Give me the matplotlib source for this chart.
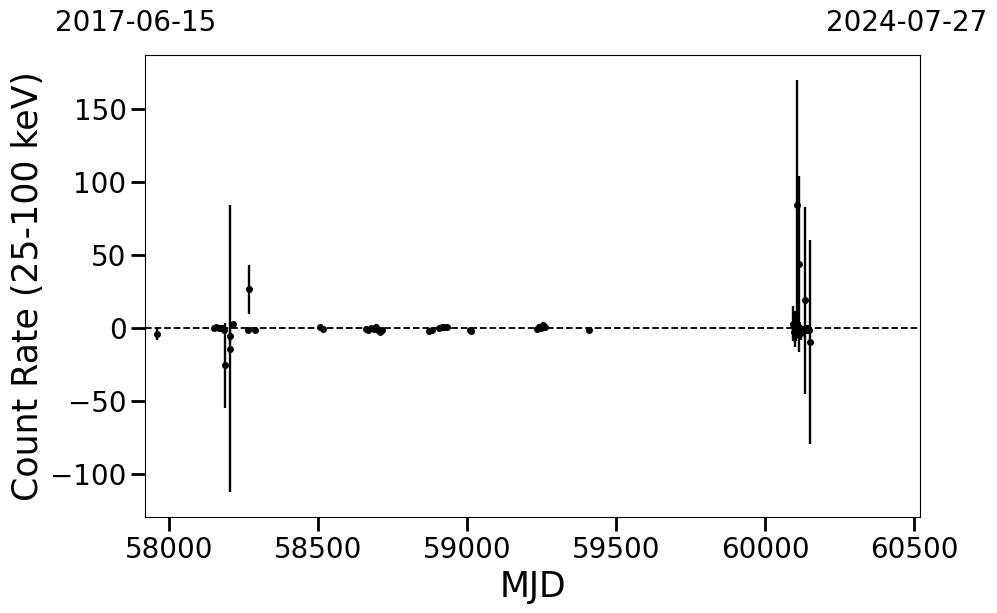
import numpy as np
import matplotlib.pyplot as plt

# light curve values (MJD, rate, 1-sigma error)
mjd = [57960, 58150, 58158, 58165, 58172, 58178, 58183, 58185, 58202, 58202,
       58214, 58263, 58266, 58287, 58505, 58514, 58660, 58667, 58677, 58685,
       58694, 58700, 58707, 58712, 58870, 58880, 58905, 58915, 58923, 58930,
       59008, 59012, 59232, 59240, 59247, 59255, 59262, 59409,
       60093, 60095, 60097, 60099, 60101, 60103, 60106, 60108, 60112, 60115,
       60120, 60125, 60133, 60140, 60148, 60150]
rate = [-4.0, 0.3, 0.5, 0.2, 0.4, 0.0, -1.4, -25.5, -5.5, -14.0,
        2.5, -1.0, 26.5, -1.5, 0.8, -0.5, -0.7, -1.5, 0.0, -0.5,
        0.5, -1.2, -2.5, -1.0, -2.0, -1.0, 0.0, 0.8, 1.0, 0.5,
        -1.0, -2.0, -0.5, 1.0, 0.0, 2.0, 1.0, -1.5,
        3.0, 1.0, -2.5, 2.0, -5.0, -3.0, 84.0, -2.0, 44.0, -1.5,
        -3.0, -1.4, 19.0, -1.0, -1.0, -9.5]
err = [4.0, 1.0, 1.0, 1.5, 1.5, 2.0, 2.0, 29.0, 4.0, 98.0,
       2.0, 1.5, 17.0, 1.5, 1.5, 1.0, 2.0, 1.5, 1.5, 1.5,
       2.0, 1.5, 1.5, 1.0, 1.0, 1.0, 1.0, 1.5, 1.5, 1.0,
       1.0, 1.5, 1.5, 1.5, 2.0, 1.5, 1.5, 1.0,
       12.0, 8.0, 6.0, 10.0, 8.0, 6.0, 86.0, 5.0, 60.0, 6.0,
       5.0, 3.0, 64.0, 3.0, 3.0, 70.0]

start_label = '2017-06-15'
end_label = '2024-07-27'
mjd_start, mjd_end = 57919, 60519

fig = plt.figure(figsize=(9.97, 6.13), dpi=100)
ax = fig.add_axes([0.1457, 0.1561, 0.9228 - 0.1457, 0.9103 - 0.1561])

ax.errorbar(mjd, rate, yerr=err, fmt='o', color='black', ms=4,
            elinewidth=1.7, capsize=0)
ax.axhline(0, color='black', linestyle='--', linewidth=1.3)

ax.set_xlim(mjd_start, mjd_end)
ax.set_ylim(-129.5, 187)
ax.set_xticks([58000, 58500, 59000, 59500, 60000, 60500])
ax.set_yticks([-100, -50, 0, 50, 100, 150])

ax.tick_params(axis='both', which='major', labelsize=20, length=10, width=2)
ax.set_xlabel('MJD', fontsize=25)
ax.set_ylabel('Count Rate (25-100 keV)', fontsize=25)

fig.text(136 / 997, 1 - 23 / 613, start_label, fontsize=20,
         ha='center', va='center')
fig.text(907 / 997, 1 - 23 / 613, end_label, fontsize=20,
         ha='center', va='center')

fig.savefig('out.png', dpi=100)
